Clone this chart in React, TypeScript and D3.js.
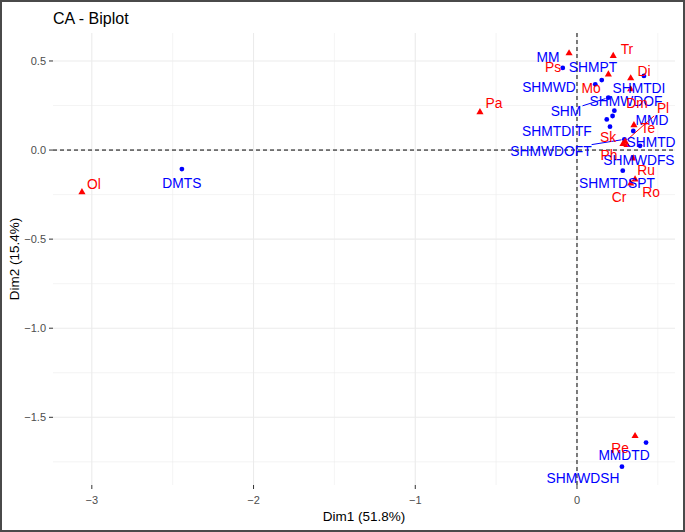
import * as d3 from 'd3';

// row points (red triangles)
const rowNames = ['Ol', 'Pa', 'Ps', 'Tr', 'Mo', 'Di', 'Dm', 'Te', 'Pl', 'Sk', 'Ph', 'Ru', 'Ro', 'Cr', 'Re'];
const rowDim1 = [-3.061, -0.6, -0.049, 0.224, 0.194, 0.332, 0.332, 0.352, 0.297, 0.309, 0.284, 0.348, 0.359, 0.332, 0.359];
const rowDim2 = [-0.236, 0.213, 0.543, 0.528, 0.425, 0.403, 0.341, 0.14, 0.047, 0.028, 0.034, -0.047, -0.165, -0.187, -1.605];
// repelled label positions (data units)
const rowLabX = [-2.987, -0.513, -0.148, 0.309, 0.087, 0.414, 0.371, 0.439, 0.532, 0.192, 0.198, 0.427, 0.458, 0.26, 0.266];
const rowLabY = [-0.191, 0.264, 0.466, 0.567, 0.348, 0.444, 0.264, 0.124, 0.236, 0.073, -0.028, -0.112, -0.236, -0.264, -1.674];
const rowSeg = ['Pl'];

// column points (blue circles)
const colNames = ['DMTS', 'MM', 'SHMPT', 'SHMWD', 'SHMTDI', 'SHM', 'SHMWDOF', 'MMD', 'SHMTDITF', '', 'SHMTD', 'SHMWDOFT', 'SHMWDFS', 'SHMTDSPT', 'MMDTD', 'SHMWDSH'];
const colDim1 = [-2.443, -0.088, 0.153, 0.113, 0.414, 0.194, 0.231, 0.22, 0.184, 0.204, 0.348, 0.293, 0.39, 0.283, 0.427, 0.278];
const colDim2 = [-0.107, 0.461, 0.393, 0.369, 0.416, 0.294, 0.221, 0.191, 0.172, 0.131, 0.107, 0.06, 0.024, -0.116, -1.642, -1.777];
const colLabX = [-2.443, -0.179, 0.099, -0.173, 0.383, -0.068, 0.303, 0.464, -0.124, 0.204, 0.458, -0.161, 0.383, 0.247, 0.291, 0.037];
const colLabY = [-0.185, 0.522, 0.466, 0.354, 0.348, 0.219, 0.275, 0.169, 0.107, 0.131, 0.045, -0.006, -0.056, -0.185, -1.713, -1.843];
const colSeg = ['SHM', 'SHMWDOFT'];

const xTicks = [-3, -2, -1, 0];
const xMinor = [-2.5, -1.5, -0.5, 0.5];
const yTicks = [0.5, 0, -0.5, -1, -1.5];
const yMinor = [0.25, -0.25, -0.75, -1.25, -1.75];

const W = 685;
const H = 532;
const FONT = 'Liberation Sans, Arial, sans-serif';
const LAB = 13.8;

const x = d3.scaleLinear().domain([-3.24, 0.606]).range([53, 675]);
const y = d3.scaleLinear().domain([-1.88, 0.657]).range([485, 33]);

// line from label box edge to point
function segment(lx: number, ly: number, px: number, py: number, text: string) {
  const hw = (text.length * 0.7 * LAB) / 2 + 2;
  const hh = LAB / 2 + 1;
  const dx = px - lx;
  const dy = py - ly;
  const t = Math.min(Math.abs(dx) > 0 ? hw / Math.abs(dx) : Infinity, Math.abs(dy) > 0 ? hh / Math.abs(dy) : Infinity);
  const len = Math.hypot(dx, dy);
  const end = Math.max(0, 1 - 3 / len);
  return { x1: lx + dx * t, y1: ly + dy * t, x2: lx + dx * end, y2: ly + dy * end };
}

const tri = d3.symbol().type(d3.symbolTriangle).size(22)();

export default function App() {
  return (
    <div style={{ position: 'absolute', left: 0, top: 0 }}>
      <svg width={W} height={H} style={{ display: 'block', fontFamily: FONT }}>
        <rect x={0} y={0} width={W} height={H} fill="#fff" />
        <rect x={1} y={1} width={W - 2} height={H - 2} fill="none" stroke="#4a4a4a" strokeWidth={2} />

        {/* grid */}
        {xMinor.map(v => (
          <line key={'xm' + v} x1={x(v)} x2={x(v)} y1={33} y2={485} stroke="#ededed" strokeWidth={0.6} />
        ))}
        {yMinor.map(v => (
          <line key={'ym' + v} x1={53} x2={675} y1={y(v)} y2={y(v)} stroke="#ededed" strokeWidth={0.6} />
        ))}
        {xTicks.map(v => (
          <line key={'xg' + v} x1={x(v)} x2={x(v)} y1={33} y2={485} stroke="#ebebeb" strokeWidth={1.1} />
        ))}
        {yTicks.map(v => (
          <line key={'yg' + v} x1={53} x2={675} y1={y(v)} y2={y(v)} stroke="#ebebeb" strokeWidth={1.1} />
        ))}

        {/* axes ticks + labels */}
        {xTicks.map(v => (
          <g key={'xt' + v}>
            <line x1={x(v)} x2={x(v)} y1={485} y2={489} stroke="#333" strokeWidth={1} />
            <text x={x(v)} y={504} textAnchor="middle" fontSize={11} fill="#4d4d4d">{d3.format('d')(v)}</text>
          </g>
        ))}
        {yTicks.map(v => (
          <g key={'yt' + v}>
            <line x1={49} x2={53} y1={y(v)} y2={y(v)} stroke="#333" strokeWidth={1} />
            <text x={46} y={y(v) + 4} textAnchor="end" fontSize={11} fill="#4d4d4d">{d3.format('.1f')(v)}</text>
          </g>
        ))}

        {/* zero lines */}
        <line x1={53} x2={675} y1={y(0)} y2={y(0)} stroke="#000" strokeWidth={1} strokeDasharray="4,3" />
        <line x1={x(0)} x2={x(0)} y1={33} y2={485} stroke="#000" strokeWidth={1} strokeDasharray="4,3" />

        {/* segments */}
        {colNames.map((n, i) => {
          if (!colSeg.includes(n)) return null;
          const s = segment(x(colLabX[i]), y(colLabY[i]), x(colDim1[i]), y(colDim2[i]), n);
          return <line key={'cs' + i} {...s} stroke="#0000ff" strokeWidth={1} />;
        })}
        {rowNames.map((n, i) => {
          if (!rowSeg.includes(n)) return null;
          const s = segment(x(rowLabX[i]), y(rowLabY[i]), x(rowDim1[i]), y(rowDim2[i]), n);
          return <line key={'rs' + i} {...s} stroke="#ff0000" strokeWidth={1} />;
        })}

        {/* points */}
        {colDim1.map((v, i) => (
          <circle key={'c' + i} cx={x(v)} cy={y(colDim2[i])} r={2.4} fill="#0000ff" />
        ))}
        {rowDim1.map((v, i) => (
          <path key={'r' + i} d={tri || ''} transform={`translate(${x(v)},${y(rowDim2[i])})`} fill="#ff0000" />
        ))}

        {/* labels */}
        {colNames.map((n, i) => (
          n ? (
            <text key={'cl' + i} x={x(colLabX[i])} y={y(colLabY[i])} dy="0.35em" textAnchor="middle" fontSize={LAB} fill="#0000ff">{n}</text>
          ) : null
        ))}
        {rowNames.map((n, i) => (
          <text key={'rl' + i} x={x(rowLabX[i])} y={y(rowLabY[i])} dy="0.35em" textAnchor="middle" fontSize={LAB} fill="#ff0000">{n}</text>
        ))}

        {/* titles */}
        <text x={53} y={24} fontSize={16} fill="#000">CA - Biplot</text>
        <text x={364} y={521} textAnchor="middle" fontSize={13.5} fill="#000">Dim1 (51.8%)</text>
        <text transform={`translate(19,259) rotate(-90)`} textAnchor="middle" fontSize={13.5} fill="#000">Dim2 (15.4%)</text>
      </svg>
    </div>
  );
}
